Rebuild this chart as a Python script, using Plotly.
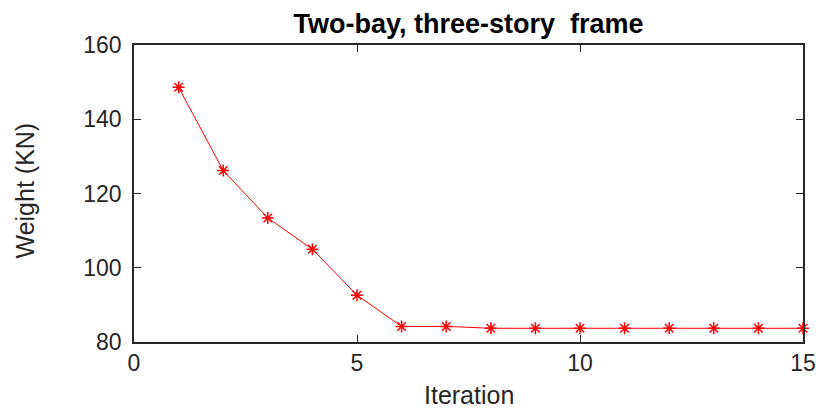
import plotly.graph_objects as go

iterations = [1, 2, 3, 4, 5, 6, 7, 8, 9, 10, 11, 12, 13, 14, 15]
weight_kn = [148.6, 126.2, 113.4, 105.0, 92.6, 84.2, 84.2, 83.7, 83.7, 83.7, 83.7, 83.7, 83.7, 83.7, 83.7]
x_ticks = [0, 5, 10, 15]
y_ticks = [80, 100, 120, 140, 160]

axis_color = "#262626"
font_family = "Liberation Sans, Arial, Helvetica, sans-serif"

fig = go.Figure()
fig.add_trace(go.Scatter(
    x=iterations, y=weight_kn, mode="lines+markers",
    line=dict(color="#ff0000", width=1),
    marker=dict(symbol="asterisk-open", size=10, color="#ff0000",
                line=dict(color="#ff0000", width=1.5)),
    showlegend=False, cliponaxis=False,
))

common = dict(
    showgrid=False, zeroline=False, showline=True, linecolor=axis_color,
    linewidth=1.5, mirror="allticks", ticks="inside", ticklen=7,
    tickwidth=1.2, tickcolor=axis_color, automargin=False,
    ticklabeloverflow="allow",
    tickfont=dict(family=font_family, size=23, color=axis_color),
)

fig.update_xaxes(range=[0, 15], tickvals=x_ticks, **common)
fig.update_yaxes(range=[80, 160], tickvals=y_ticks, ticklabelstandoff=6, **common)

fig.add_annotation(text="Iteration", xref="paper", yref="paper", x=0.5, y=-0.18,
                   xanchor="center", yanchor="middle", showarrow=False,
                   font=dict(family=font_family, size=25, color=axis_color))
fig.add_annotation(text="Weight (KN)", xref="paper", yref="paper", x=-0.163, y=0.51,
                   xanchor="center", yanchor="middle", showarrow=False, textangle=-90,
                   font=dict(family=font_family, size=25, color=axis_color))

fig.update_layout(
    width=808, height=400,
    margin=dict(l=126, r=13, t=37, b=66),
    paper_bgcolor="white", plot_bgcolor="white",
    title=dict(text="<b>Two-bay, three-story\u00a0 frame</b>", x=0.5, xref="paper",
               y=1 - 15.3 / 400, yref="container", yanchor="middle",
               font=dict(family=font_family, size=27, color="black")),
)

fig.write_html("out.html")
